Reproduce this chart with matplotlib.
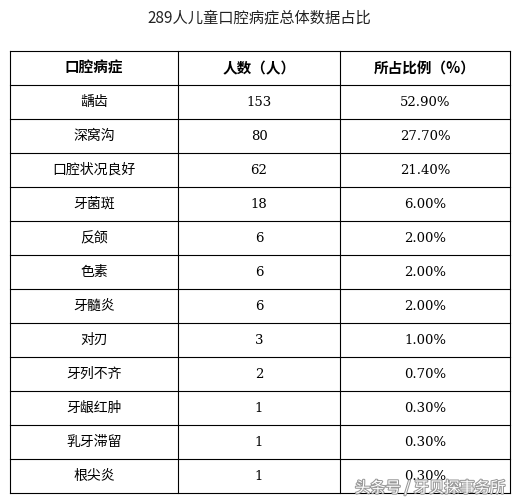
import matplotlib
matplotlib.use("Agg")
import matplotlib.pyplot as plt

plt.rcParams['font.family'] = ['Noto Sans CJK SC', 'DejaVu Sans']

title = "289人儿童口腔病症总体数据占比"
headers = ["口腔病症", "人数（人）", "所占比例（%）"]
diseases = ["龋齿", "深窝沟", "口腔状况良好", "牙菌斑", "反颌", "色素", "牙髓炎", "对刃", "牙列不齐", "牙龈红肿", "乳牙滞留", "根尖炎"]
counts = [153, 80, 62, 18, 6, 6, 6, 3, 2, 1, 1, 1]
ratios = ["52.90%", "27.70%", "21.40%", "6.00%", "2.00%", "2.00%", "2.00%", "1.00%", "0.70%", "0.30%", "0.30%", "0.30%"]

W, H = 519, 504
fig = plt.figure(figsize=(W/100, H/100), dpi=100)
ax = fig.add_axes([0, 0, 1, 1])
ax.set_xlim(0, W); ax.set_ylim(H, 0); ax.axis('off')

cols = [10, 178, 340, 510]
top, rh = 51, 34.0
n = len(diseases) + 1
ax.text(W/2, 18, title, ha='center', va='center', fontsize=11, color='#222')
for i in range(n + 1):
    ax.plot([cols[0], cols[-1]], [top + i*rh]*2, color='black', lw=0.8)
for x in cols:
    ax.plot([x, x], [top, top + n*rh], color='black', lw=0.8)
centers = [(cols[j] + cols[j+1]) / 2 for j in range(3)]
for j, h in enumerate(headers):
    ax.text(centers[j], top + rh/2, h, ha='center', va='center', fontsize=10.5, fontweight='bold')
for i, (d, c, r) in enumerate(zip(diseases, counts, ratios)):
    y = top + (i + 1.5) * rh
    ax.text(centers[0], y, d, ha='center', va='center', fontsize=10)
    ax.text(centers[1], y, str(c), ha='center', va='center', fontsize=9.5, family='DejaVu Serif')
    ax.text(centers[2], y, r, ha='center', va='center', fontsize=9.5, family='DejaVu Serif')
ax.text(505, 488, "头条号 / 牙贝探事务所", ha='right', va='center', fontsize=11, color='white',
        path_effects=[__import__('matplotlib.patheffects', fromlist=['x']).withStroke(linewidth=1.5, foreground='#999')])
fig.savefig("out.png", dpi=100)
